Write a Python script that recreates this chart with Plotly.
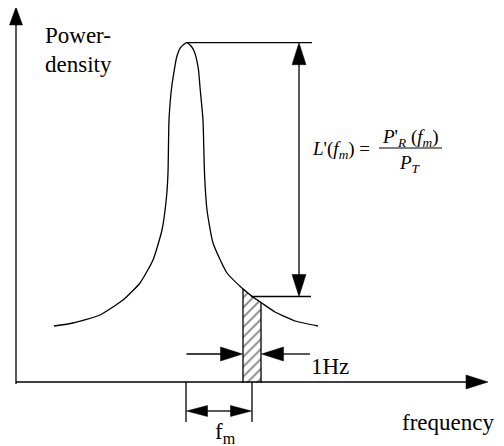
import plotly.graph_objects as go

# ---- data (pixel-like diagram coordinates) ----
curve_x = [54, 73, 100, 123, 140, 153, 162, 166.5, 168, 169, 171.7, 176.7, 180.7, 186.7,
           191.5, 195, 198.5, 200, 203, 204.5, 207, 213, 227, 243, 252, 261, 275, 295, 318]
curve_y = [326, 323, 315, 300, 283, 260, 230, 197, 173, 120, 87, 57, 47.3, 42.7,
           46.5, 53.5, 70, 87, 120, 173, 210, 243, 273, 289, 296.5, 302.5, 312, 321, 326]

hatch_x = [243, 243, 252, 261, 261]
hatch_y = [383, 289, 296.5, 302.5, 383]

peak_level = 42.7
offset_level = 296.5
axis_y = 382
axis_x = 16
fm_ticks = [186, 252]

label_y = ["Power-", "density"]
label_x = "frequency"
label_bw = "1Hz"

LW = 1.3
BLACK = "black"
PAGE_MARGIN = 8  # default browser body margin

fig = go.Figure()

# spectrum curve
fig.add_trace(go.Scatter(x=curve_x, y=curve_y, mode="lines",
                         line=dict(color=BLACK, width=LW, shape="spline", smoothing=0.5),
                         hoverinfo="skip", showlegend=False))

# hatched 1 Hz band
fig.add_trace(go.Scatter(x=hatch_x, y=hatch_y, mode="lines", fill="toself",
                         fillcolor="white",
                         fillpattern=dict(shape="/", size=7, solidity=0.25,
                                          fgcolor=BLACK, bgcolor="white"),
                         line=dict(color=BLACK, width=LW),
                         hoverinfo="skip", showlegend=False))

shapes = []

def line(x0, y0, x1, y1, w=LW):
    shapes.append(dict(type="line", xref="x", yref="y", x0=x0, y0=y0, x1=x1, y1=y1,
                       line=dict(color=BLACK, width=w)))

def head(tx, ty, direction, length, half):
    # filled triangular arrowhead with tip at (tx, ty)
    if direction == "up":
        pts = [(tx, ty), (tx - half, ty + length), (tx + half, ty + length)]
    elif direction == "down":
        pts = [(tx, ty), (tx - half, ty - length), (tx + half, ty - length)]
    elif direction == "right":
        pts = [(tx, ty), (tx - length, ty - half), (tx - length, ty + half)]
    else:
        pts = [(tx, ty), (tx + length, ty - half), (tx + length, ty + half)]
    path = "M " + " L ".join(f"{x},{y}" for x, y in pts) + " Z"
    shapes.append(dict(type="path", xref="x", yref="y", path=path,
                       fillcolor=BLACK, line=dict(color=BLACK, width=0.5)))

# axes
line(axis_x, 384, axis_x, 24)
head(axis_x, 7, "up", 18, 6.5)
line(axis_x, axis_y, 467, axis_y)
head(488, axis_y, "right", 22, 7)

# peak / offset reference lines
line(186.7, peak_level, 312, peak_level)
line(251, offset_level, 311, offset_level)

# double arrow L'(fm)
line(299, peak_level + 20, 299, offset_level - 20)
head(299, peak_level, "up", 22, 7)
head(299, offset_level, "down", 22, 7)

# 1 Hz arrows
line(186.5, 354, 221, 354)
head(242.5, 354, "right", 22, 7)
line(310, 354, 283, 354)
head(261.5, 354, "left", 22, 7)

# fm ticks and arrow
for t in fm_ticks:
    line(t, axis_y, t, 422)
line(207, 411, 231, 411)
head(fm_ticks[0] + 0.5, 411, "left", 21, 5.5)
head(fm_ticks[1] - 0.5, 411, "right", 21, 5.5)

# fraction bar of formula
line(379, 148, 442, 148, w=1.0)

fig.update_layout(shapes=shapes)

FONT = "Liberation Serif, Times New Roman, serif"
ann = []

def text(s, x, y, size, xanchor="left", yanchor="middle"):
    ann.append(dict(text=s, x=x, y=y, xref="x", yref="y", showarrow=False,
                    xanchor=xanchor, yanchor=yanchor,
                    font=dict(family=FONT, size=size, color=BLACK)))

text(label_y[0], 43, 35, 23)
text(label_y[1], 43, 64, 23)
text(label_bw, 309, 366, 23)
text(label_x, 400, 422, 23)
text("f<sub>m</sub>", 213, 433, 23)

text("<i>L</i>'(<i>f</i><sub><i>m</i></sub>) =", 310, 150, 19)
text("<i>P</i>'<sub><i>R</i></sub> (<i>f</i><sub><i>m</i></sub>)", 410, 138, 19, xanchor="center")
text("<i>P</i><sub><i>T</i></sub>", 410, 164, 19, xanchor="center")

fig.update_layout(annotations=ann)

fig.update_layout(
    width=504 - PAGE_MARGIN, height=446 - PAGE_MARGIN,
    margin=dict(l=0, r=0, t=0, b=0, pad=0),
    font=dict(family=FONT, color=BLACK),
    paper_bgcolor="white", plot_bgcolor="white",
    xaxis=dict(range=[PAGE_MARGIN, 504], visible=False, fixedrange=True),
    yaxis=dict(range=[446, PAGE_MARGIN], visible=False, fixedrange=True),
    showlegend=False,
)

fig.write_html("out.html", config=dict(displayModeBar=False))
